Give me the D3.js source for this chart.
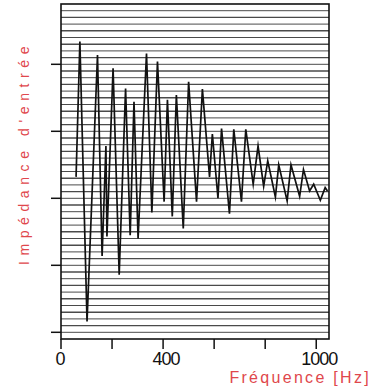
<!DOCTYPE html>
<html>
<head>
<meta charset="utf-8">
<script src="https://cdn.jsdelivr.net/npm/d3@7"></script>
<style>
  body { margin: 0; background: #fff; }
</style>
</head>
<body>
<svg id="chart" width="372" height="392"></svg>
<script>
// frequency (Hz) of each turning point of the curve
var freq = [59, 74, 102, 143, 161, 176, 180, 204, 228, 253, 271, 286, 302, 335, 356, 378,
            404, 417, 436, 452, 479, 500, 531, 554, 582, 593, 615, 629, 660, 677, 707, 724,
            753, 772, 794, 810, 840, 853, 886, 901, 935, 950, 974, 990, 1016, 1035, 1044];
// input impedance, in units of the ruled lines (0 = bottom of the frame)
var imped = [24.2, 44.4, 2.6, 42.4, 12.4, 28.8, 15.3, 40.4, 9.6, 37.4, 15.5, 35.4, 15.0, 42.6, 18.9, 41.4,
             20.5, 35.7, 18.3, 36.4, 16.5, 38.4, 20.5, 37.3, 24.2, 30.6, 21.0, 31.4, 18.7, 31.3, 20.5, 31.3,
             23.1, 28.8, 22.8, 26.6, 21.2, 26.0, 20.6, 26.0, 21.3, 25.3, 22.1, 23.1, 20.7, 22.6, 22.1];
var xTicks = [0, 200, 400, 600, 800, 1000];
var xLabels = ["0", "", "400", "", "", "1000"];
var yTicks = [1, 11, 21, 31, 41];
var nLines = 50;                                 // number of ruled intervals

var red = "#e0474c";
var svg = d3.select("#chart");

var x = d3.scaleLinear().domain([0, 1050]).range([61, 329]);
var y = d3.scaleLinear().domain([0, nLines]).range([339, 4]);

// ruled horizontal lines
for (i = 1; i < nLines; i++) {
  svg.append("line")
    .attr("x1", x(0))
    .attr("x2", x(1050))
    .attr("y1", y(i))
    .attr("y2", y(i))
    .attr("style", "stroke: #4a4a4a; stroke-width: " + (i % 2 === 0 ? 1.4 : 1) + ";");
}

// frame
svg.append("rect")
  .attr("x", x(0))
  .attr("y", y(nLines))
  .attr("width", x(1050) - x(0))
  .attr("height", y(0) - y(nLines))
  .attr("style", "fill: none; stroke: #111; stroke-width: 1.6;");

// y ticks (outside, left)
for (i = 0; i < yTicks.length; i++) {
  svg.append("line")
    .attr("x1", x(0) - 10)
    .attr("x2", x(0))
    .attr("y1", y(yTicks[i]))
    .attr("y2", y(yTicks[i]))
    .attr("style", "stroke: #111; stroke-width: 1.5;");
}

// x ticks (outside, below) and labels
for (i = 0; i < xTicks.length; i++) {
  svg.append("line")
    .attr("x1", x(xTicks[i]))
    .attr("x2", x(xTicks[i]))
    .attr("y1", y(0))
    .attr("y2", y(0) + 10)
    .attr("style", "stroke: #111; stroke-width: 1.5;");
  if (xLabels[i] !== "") {
    svg.append("text")
      .attr("x", x(xTicks[i]) + (xTicks[i] === 0 ? -1 : 3))
      .attr("y", 365)
      .attr("text-anchor", "middle")
      .attr("style", "font-family: 'Liberation Sans', Arial, sans-serif; font-size: 18px; letter-spacing: -1px; fill: #111;")
      .text(xLabels[i]);
  }
}

// impedance curve
var pts = [];
for (i = 0; i < freq.length; i++) {
  pts.push([freq[i], imped[i]]);
}
var line = d3.line()
  .x(function(d) { return x(d[0]); })
  .y(function(d) { return y(d[1]); });
svg.append("path")
  .attr("d", line(pts))
  .attr("style", "fill: none; stroke: #111; stroke-width: 1.7; stroke-linejoin: miter; stroke-miterlimit: 10;");

// axis titles
svg.append("text")
  .attr("x", 371)
  .attr("y", 383)
  .attr("text-anchor", "end")
  .attr("style", "font-family: 'Liberation Sans', Arial, sans-serif; font-size: 16px; letter-spacing: 2.3px; fill: " + red + ";")
  .text("Fréquence [Hz]");

svg.append("text")
  .attr("transform", "translate(29,153) rotate(-90)")
  .attr("text-anchor", "middle")
  .attr("style", "font-family: 'Liberation Sans', Arial, sans-serif; font-size: 14px; letter-spacing: 5.6px; fill: " + red + ";")
  .text("Impédance d'entrée");
</script>
</body>
</html>
